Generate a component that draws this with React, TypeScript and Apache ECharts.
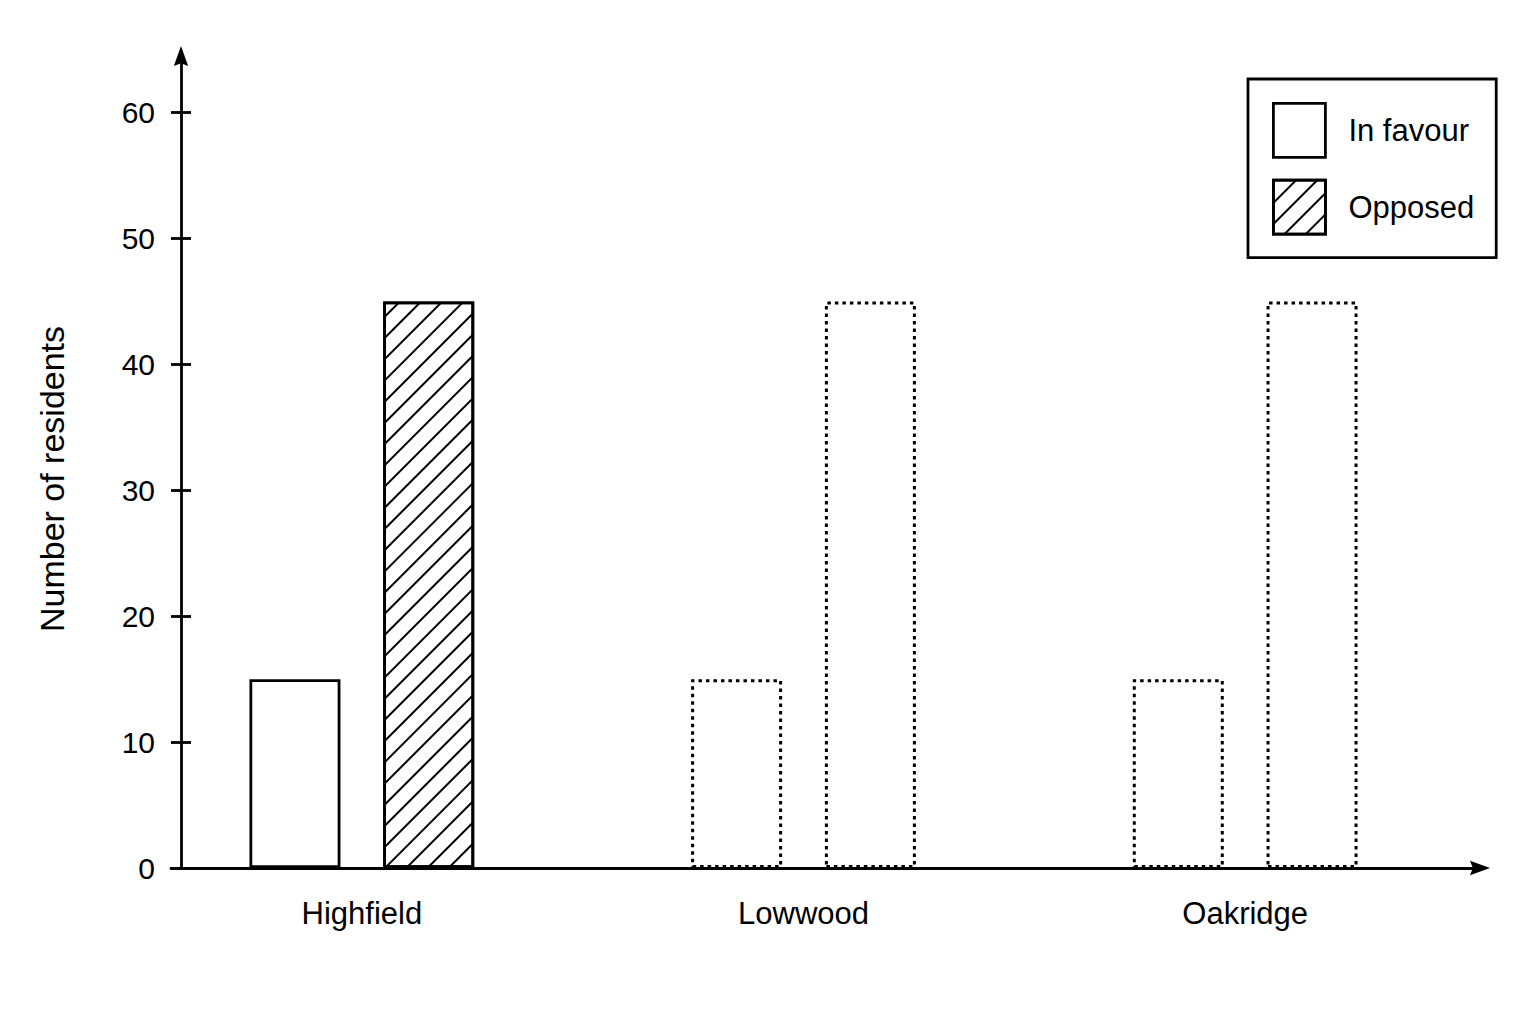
import React, { useEffect, useRef } from 'react';
import * as echarts from 'echarts';

const categories = ['Highfield', 'Lowwood', 'Oakridge'];
const inFavour = [15, 15, 15];
const opposed = [45, 45, 45];
// only the first town is drawn in full, the others are left as dotted outlines
const completed = [true, false, false];
const yTicks = [0, 10, 20, 30, 40, 50, 60];
const yMax = 64.5;

const FONT = 'Liberation Sans';
const INK = '#000';
// solid arrow head with a slightly hollow back, tip at the top
const ARROW = 'path://M10,0 L20,28 L10,24 L0,28 Z';

const hatch = {
  symbol: 'rect',
  symbolSize: 1,
  dashArrayX: [1, 0],
  dashArrayY: [2, 13],
  rotation: -Math.PI / 4,
  color: INK,
};

const barItem = (value: number, i: number, hatched: boolean) => ({
  value,
  itemStyle: completed[i]
    ? {
        color: '#fff',
        borderColor: INK,
        borderWidth: 2.8,
        borderType: 'solid',
        ...(hatched ? { decal: hatch } : {}),
      }
    : {
        color: 'rgba(0,0,0,0)',
        borderColor: INK,
        borderWidth: 3,
        borderType: [3.5, 4],
      },
});

const App: React.FC = () => {
  const chartRef = useRef<HTMLDivElement>(null);

  useEffect(() => {
    if (!chartRef.current) return;
    const chart = echarts.init(chartRef.current, null, { renderer: 'svg' });

    const axisLineStyle = { color: INK, width: 2.8 };
    const textBase = { color: INK, fontFamily: FONT };

    const option: any = {
      animation: false,
      backgroundColor: '#fff',
      grid: [
        { left: 141, right: 70, top: 56, bottom: 156, outerBoundsMode: 'none' },
        { left: 171, right: 56, top: 56, bottom: 156, outerBoundsMode: 'none' },
      ],
      xAxis: [
        {
          type: 'category',
          gridIndex: 0,
          data: categories,
          axisLine: { show: false },
          axisTick: { show: false },
          axisLabel: { ...textBase, fontSize: 31, margin: 30 },
          splitLine: { show: false },
        },
        {
          type: 'value',
          gridIndex: 1,
          min: 0,
          max: 1,
          axisLine: {
            show: true,
            onZero: false,
            symbol: ['none', ARROW],
            symbolSize: [15, 20],
            lineStyle: axisLineStyle,
          },
          axisTick: { show: false },
          axisLabel: { show: false },
          splitLine: { show: false },
        },
      ],
      yAxis: [
        { type: 'value', gridIndex: 0, min: 0, max: yMax, show: false },
        {
          type: 'value',
          gridIndex: 1,
          position: 'left',
          min: 0,
          max: yMax,
          offset: -10,
          name: 'Number of residents',
          nameLocation: 'middle',
          nameGap: 112,
          nameTextStyle: { ...textBase, fontSize: 34, padding: [0, 34, 0, 0] },
          axisLine: {
            show: true,
            onZero: false,
            symbol: ['none', ARROW],
            symbolSize: [15, 20],
            lineStyle: axisLineStyle,
          },
          axisTick: { show: true, length: 10, customValues: yTicks, lineStyle: axisLineStyle },
          axisLabel: { ...textBase, fontSize: 30, margin: 26, customValues: yTicks },
          splitLine: { show: false },
        },
        {
          type: 'value',
          gridIndex: 1,
          position: 'left',
          min: 0,
          max: yMax,
          offset: -10,
          axisLine: { show: false, onZero: false },
          axisTick: { show: true, inside: true, length: 10, customValues: yTicks, lineStyle: axisLineStyle },
          axisLabel: { show: false },
          splitLine: { show: false },
        },
      ],
      legend: {
        orient: 'vertical',
        left: 1248,
        top: 79,
        padding: [23, 22, 22, 24],
        itemGap: 20,
        itemWidth: 52,
        itemHeight: 54,
        icon: 'rect',
        selectedMode: false,
        borderColor: INK,
        borderWidth: 2.8,
        backgroundColor: '#fff',
        textStyle: { ...textBase, fontSize: 31, padding: [0, 0, 0, 18] },
        data: [
          { name: 'In favour', itemStyle: { color: '#fff', borderColor: INK, borderWidth: 2.8 } },
          { name: 'Opposed', itemStyle: { color: '#fff', borderColor: INK, borderWidth: 2.8, decal: hatch } },
        ],
      },
      series: [
        {
          name: 'In favour',
          type: 'bar',
          xAxisIndex: 0,
          yAxisIndex: 0,
          barWidth: 91,
          barGap: '47%',
          silent: true,
          itemStyle: { color: '#fff', borderColor: INK, borderWidth: 2.8 },
          data: inFavour.map((v, i) => barItem(v, i, false)),
        },
        {
          name: 'Opposed',
          type: 'bar',
          xAxisIndex: 0,
          yAxisIndex: 0,
          barWidth: 91,
          barGap: '47%',
          silent: true,
          itemStyle: { color: '#fff', borderColor: INK, borderWidth: 2.8 },
          data: opposed.map((v, i) => barItem(v, i, true)),
        },
      ],
    };

    chart.setOption(option);

    return () => {
      chart.dispose();
    };
  }, []);

  return (
    <div
      ref={chartRef}
      style={{ position: 'fixed', left: 0, top: 0, width: '1536px', height: '1024px' }}
    />
  );
};

export default App;
